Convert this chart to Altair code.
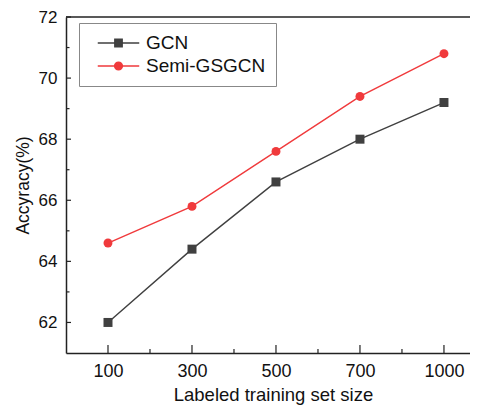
import altair as alt
import pandas as pd

sizes = ["100", "300", "500", "700", "1000"]
gcn = [62.0, 64.4, 66.6, 68.0, 69.2]
semi = [64.6, 65.8, 67.6, 69.4, 70.8]
series_names = ["GCN", "Semi-GSGCN"]
series_colors = ["#404040", "#f03a3c"]
y_major = [62, 64, 66, 68, 70, 72]
y_minor = [63, 65, 67, 69, 71]
x_major = [1, 2, 3, 4, 5]
x_minor = [1.5, 2.5, 3.5, 4.5]

rows = []
for i, s in enumerate(sizes):
    rows.append({"idx": i + 1, "size": s, "series": "GCN", "acc": gcn[i]})
    rows.append({"idx": i + 1, "size": s, "series": "Semi-GSGCN", "acc": semi[i]})
df = pd.DataFrame(rows)

W, H = 404, 336
FONT = "Liberation Sans"
AX = "#222222"

xscale = alt.Scale(domain=[0.5, 5.31], nice=False, zero=False)
yscale = alt.Scale(domain=[61, 72], nice=False, zero=False)
color_scale = alt.Scale(domain=series_names, range=series_colors)

label_expr = "[" + ",".join(f"'{s}'" for s in sizes) + "][datum.value - 1]"

x_axis = alt.Axis(values=x_major, labelExpr=label_expr, title="Labeled training set size",
                  tickSize=0, grid=False, domainColor=AX, domainWidth=1.5,
                  labelFontSize=18, labelPadding=9, labelColor="#111",
                  titleFontSize=18.5, titleFontWeight="normal", titleColor="#111",
                  titleBaseline="alphabetic", titleY=47, titleX=W / 2 + 5,
                  labelFont=FONT, titleFont=FONT)
y_axis = alt.Axis(values=y_major, title="Accyracy(%)", tickSize=0, grid=False,
                  domainColor=AX, domainWidth=1.5, labelFontSize=17, labelPadding=9,
                  labelColor="#111", titleFontSize=17.5, titleFontWeight="normal",
                  titlePadding=6, titleColor="#111", labelFont=FONT, titleFont=FONT)

x_enc = alt.X("idx:Q", scale=xscale, axis=x_axis, title="Labeled training set size")
y_enc = alt.Y("acc:Q", scale=yscale, axis=y_axis, title="Accyracy(%)")

sq_path = "M-1,0H1M-0.18,-0.18H0.18V0.18H-0.18Z"
ci_path = "M-1,0H1M0.19,0A0.19,0.19,0,1,1,-0.19,0A0.19,0.19,0,1,1,0.19,0Z"

leg = alt.Legend(title=None, orient="none", legendX=13, legendY=6, strokeColor="#888888",
                 fillColor="white", padding=10, symbolOffset=8, symbolSize=1722,
                 symbolStrokeWidth=1.3, clipHeight=20, rowPadding=3, labelOffset=6,
                 labelFontSize=19, labelFont=FONT, labelColor="#111", labelLimit=300)

col = alt.Color("series:N", scale=color_scale, legend=leg)

lines = alt.Chart(df).mark_line(strokeWidth=1.4).encode(
    x=x_enc, y=y_enc, color=col,
    shape=alt.Shape("series:N", scale=alt.Scale(domain=series_names, range=[sq_path, ci_path]), legend=leg))
pts_g = alt.Chart(df).transform_filter(alt.datum.series == "GCN").mark_point(
    shape="square", filled=True, size=81, opacity=1).encode(x=x_enc, y=y_enc, color=col)
pts_s = alt.Chart(df).transform_filter(alt.datum.series == "Semi-GSGCN").mark_point(
    shape="circle", filled=True, size=80, opacity=1).encode(x=x_enc, y=y_enc, color=col)

one = pd.DataFrame({"a": [0]})
top_line = alt.Chart(one).mark_rule(color=AX, strokeWidth=1.6).encode(
    x=alt.value(0), x2=alt.value(W), y=alt.value(0))

ymaj = alt.Chart(pd.DataFrame({"acc": y_major})).mark_rule(color=AX, strokeWidth=1.2).encode(
    y=y_enc, x=alt.value(0), x2=alt.value(5))
ymin = alt.Chart(pd.DataFrame({"acc": y_minor})).mark_rule(color=AX, strokeWidth=1.2).encode(
    y=y_enc, x=alt.value(0), x2=alt.value(3.5))
xmaj = alt.Chart(pd.DataFrame({"idx": x_major})).mark_rule(color=AX, strokeWidth=1.2).encode(
    x=x_enc, y=alt.value(H), y2=alt.value(H - 8))
xmin = alt.Chart(pd.DataFrame({"idx": x_minor})).mark_rule(color=AX, strokeWidth=1.2).encode(
    x=x_enc, y=alt.value(H), y2=alt.value(H - 4))

chart = alt.layer(lines, pts_g, pts_s, top_line, ymaj, ymin, xmaj, xmin).properties(
    width=W, height=H,
    autosize=alt.AutoSizeParams(type="none"),
    padding={"left": 58, "top": 9, "right": 0, "bottom": 53},
    background="white",
).configure_view(stroke=None)

chart.save("out.html", embed_options={"renderer": "svg", "actions": False})
